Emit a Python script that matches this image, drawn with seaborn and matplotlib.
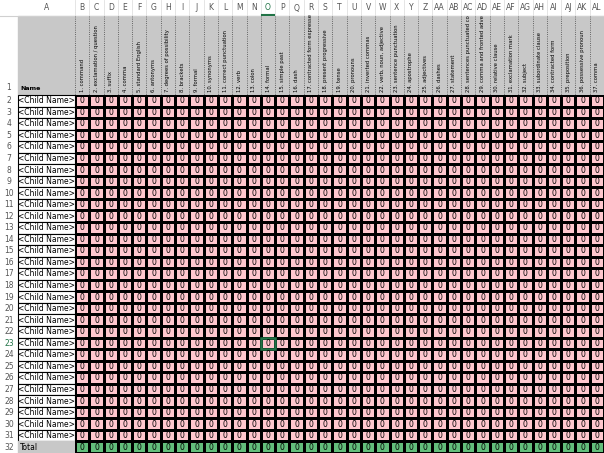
import numpy as np
import matplotlib
matplotlib.use("Agg")
import matplotlib.pyplot as plt
from matplotlib.colors import ListedColormap
from matplotlib.patches import Rectangle
import seaborn as sns

col_letters = ["B","C","D","E","F","G","H","I","J","K","L","M","N","O","P","Q","R","S","T","U","V","W","X","Y","Z",
               "AA","AB","AC","AD","AE","AF","AG","AH","AI","AJ","AK","AL"]
headers = ["1. command","2. exclamation / question","3. suffix","4. comma","5. standard English","6. antonyms",
           "7. degrees of possibility","8. brackets","9. formal","10. synonyms","11. correct punctuation","12. verb",
           "13. colon","14. formal","15. simple past","16. dash","17. contracted form expresse","18. present progressive",
           "19. tense","20. pronouns","21. inverted commas","22. verb, noun, adjective","23. sentence punctuation",
           "24. apostrophe","25. adjectives","26. dashes","27. statement","28. sentences punctuated co",
           "29. comma and fronted adve","30. relative clause","31. exclamation mark","32. subject",
           "33. subordinate clause","34. contracted form","35. preposition","36. possessive pronoun","37. comma"]
names = ["<Child Name>"] * 30 + ["Total"]
scores = [[0] * 37 for _ in range(30)]
totals = [0] * 37

W, H = 604, 453
fig = plt.figure(figsize=(W/100, H/100), dpi=100)
bg = fig.add_axes([0, 0, 1, 1])
bg.set_xlim(0, W); bg.set_ylim(H, 0); bg.axis("off")

x0, xA, colw = 18, 75, (W - 75) / 37
y_hdr, y1 = 16, 95
rowh = (H - y1) / 31

bg.add_patch(Rectangle((0, 0), W, y_hdr, color="#ffffff", zorder=0))
bg.plot([0, W], [y_hdr, y_hdr], color="#d0d0d0", lw=0.8)
bg.text((x0 + xA) / 2, 8, "A", ha="center", va="center", fontsize=5.5, color="#555")
for i, c in enumerate(col_letters):
    cx = xA + (i + 0.5) * colw
    bg.text(cx, 8, c, ha="center", va="center", fontsize=5.5, color="#217346" if c == "O" else "#555")
    bg.plot([xA + i * colw] * 2, [0, y_hdr], color="#e0e0e0", lw=0.6)
bg.plot([xA + 13 * colw + 1, xA + 14 * colw - 1], [y_hdr - 1, y_hdr - 1], color="#217346", lw=1.5)
bg.text(9, y1 - 8, "1", ha="center", va="center", fontsize=5.5, color="#555")
for r in range(31):
    bg.text(9, y1 + (r + 0.5) * rowh, str(r + 2), ha="center", va="center", fontsize=5.5,
            color="#217346" if r + 2 == 23 else "#555")
hdr_rect = Rectangle((x0, y_hdr), W - x0, y1 - y_hdr, color="#c8c8c8")
bg.add_patch(hdr_rect)
bg.text(x0 + 2, y1 - 4, "Name", ha="left", va="bottom", fontsize=4.5, fontweight="bold")
for i, h in enumerate(headers):
    lx = xA + i * colw
    bg.plot([lx, lx], [y_hdr, y1], color="#444", lw=0.6, ls=":")
    t = bg.text(lx + colw / 2, y1 - 3, h, rotation=90, ha="center", va="bottom", fontsize=3.8)
    t.set_clip_path(hdr_rect)
for r, n in enumerate(names):
    yy = y1 + r * rowh
    if n == "Total":
        bg.add_patch(Rectangle((x0, yy), xA - x0, rowh, color="#c8c8c8"))
        bg.text(x0 + 2, yy + rowh / 2, n, ha="left", va="center", fontsize=5.5)
    else:
        bg.add_patch(Rectangle((x0, yy), xA - x0, rowh, fc="white", ec="black", lw=0.8))
        bg.text((x0 + xA) / 2, yy + rowh / 2, n, ha="center", va="center", fontsize=5.5)

values = np.array(scores + [totals])
kind = np.zeros_like(values); kind[-1, :] = 1
ax = fig.add_axes([xA / W, 0, (W - xA) / W, (H - y1) / H])
sns.heatmap(kind, ax=ax, cmap=ListedColormap(["#ffc7ce", "#63be7b"]), vmin=0, vmax=1, cbar=False,
            annot=values, fmt="d", annot_kws={"fontsize": 5.5, "color": "black"},
            linewidths=0.8, linecolor="black", xticklabels=False, yticklabels=False)
ax.add_patch(Rectangle((13, 21), 1, 1, fill=False, ec="#217346", lw=1.8))
fig.savefig("out.png", dpi=100)
